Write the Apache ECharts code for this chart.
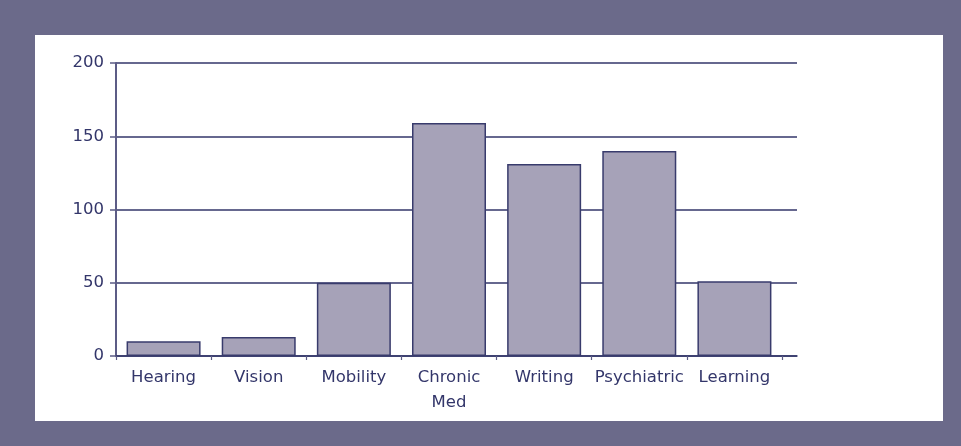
<!DOCTYPE html>
<html>
<head>
<meta charset="utf-8">
<script src="https://cdn.jsdelivr.net/npm/echarts@6/dist/echarts.min.js"></script>
<style>
    html, body { margin: 0; padding: 0; background: #6b6a8a; }
    #panel { position: absolute; left: 35px; top: 35px; width: 908px; height: 386px; background: #ffffff; }
    #main { position: absolute; left: 0; top: 0; width: 961px; height: 446px; }
</style>
</head>
<body>
<div id="panel"></div>
<div id="main"></div>
<script>
// 数据
var categories = ['Hearing', 'Vision', 'Mobility', 'Chronic\nMed', 'Writing', 'Psychiatric', 'Learning'];
var counts = [10, 13, 50, 159, 131, 140, 51];
var yTicks = [0, 50, 100, 150, 200];

var ink = '#33366a';     // 文字, 网格线
var axisInk = '#5c5c86'; // 纵轴线
var font = 'DejaVu Sans';

var chart = echarts.init(document.getElementById('main'));

var option = {
    backgroundColor: 'transparent',
    animation: false,
    grid: [
        // 网格线 + 坐标轴(延伸到右边)
        { left: 116, right: 164, top: 63, bottom: 90 },
        // 柱子
        { left: 116, right: 179, top: 63, bottom: 90 }
    ],
    xAxis: [
        {
            gridIndex: 0, type: 'category', data: [''],
            axisLine: { show: true, lineStyle: { color: ink, width: 1.5 } },
            axisTick: { show: false }, axisLabel: { show: false }, splitLine: { show: false }
        },
        {
            gridIndex: 1, type: 'category', data: categories,
            axisLine: { show: false },
            axisTick: { show: true, length: 4, lineStyle: { color: axisInk, width: 1.2 } },
            axisLabel: { color: ink, fontFamily: font, fontSize: 16.5, lineHeight: 25, margin: 9, interval: 0 },
            splitLine: { show: false }
        }
    ],
    yAxis: [
        {
            gridIndex: 0, type: 'value', min: yTicks[0], max: yTicks[yTicks.length - 1], interval: yTicks[1] - yTicks[0],
            axisLine: { show: true, lineStyle: { color: axisInk, width: 2 } },
            axisTick: { show: true, length: 6, lineStyle: { color: axisInk, width: 1.5 } },
            axisLabel: { color: ink, fontFamily: font, fontSize: 16.5, margin: 12 },
            splitLine: { show: true, lineStyle: { color: ink, width: 1.5 } }
        },
        {
            gridIndex: 1, type: 'value', min: yTicks[0], max: yTicks[yTicks.length - 1], interval: yTicks[1] - yTicks[0],
            show: false
        }
    ],
    series: [{
        type: 'bar',
        xAxisIndex: 1,
        yAxisIndex: 1,
        data: counts,
        barWidth: 74,
        itemStyle: {
            color: '#a6a2b8',
            borderColor: '#383b6c',
            borderWidth: 1.5
        }
    }]
};

chart.setOption(option);
</script>
</body>
</html>
